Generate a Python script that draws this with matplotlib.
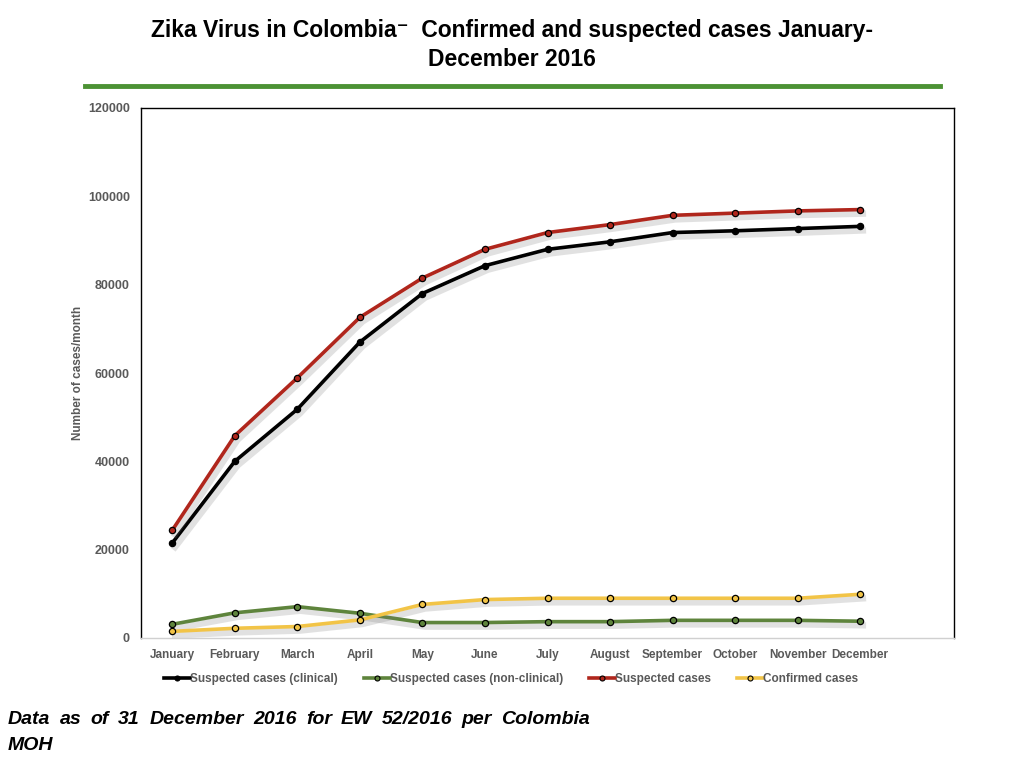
import matplotlib
matplotlib.use('Agg')
import matplotlib.pyplot as plt
import matplotlib.patheffects as pe
from matplotlib.lines import Line2D
import numpy as np

plt.rcParams['font.family'] = ['Liberation Sans', 'DejaVu Sans']

# Data
months = ['January', 'February', 'March', 'April', 'May', 'June', 'July',
          'August', 'September', 'October', 'November', 'December']
clinical = [21500, 40000, 51800, 67000, 78000, 84300, 88000, 89700, 91800, 92200, 92700, 93200]
non_clinical = [3100, 5700, 7100, 5600, 3500, 3500, 3700, 3700, 4000, 4000, 4000, 3800]
suspected = [24400, 45800, 58900, 72600, 81500, 88000, 91800, 93600, 95700, 96200, 96700, 97000]
confirmed = [1500, 2200, 2600, 4100, 7600, 8700, 9000, 9000, 9000, 9000, 9000, 9900]

series = [
    ('Suspected cases (clinical)', clinical, '#000000'),
    ('Suspected cases (non-clinical)', non_clinical, '#5e843c'),
    ('Suspected cases', suspected, '#b0261c'),
    ('Confirmed cases', confirmed, '#f2c447'),
]

fig = plt.figure(figsize=(10.24, 7.68), dpi=100)
ax = fig.add_axes([141/1024, 1-638/768, (954-141)/1024, (638-108)/768])

x = np.arange(len(months))
shadow = [pe.SimpleLineShadow(offset=(2, -3), shadow_color='#7a7a7a', alpha=0.22, linewidth=4.5),
          pe.Normal()]
handles = []
for name, vals, col in series:
    ax.plot(x, vals, color=col, linewidth=2.6, path_effects=shadow, zorder=2)
    ax.plot(x, vals, linestyle='none', marker='o', markersize=4.5,
            markerfacecolor=col, markeredgecolor='#000000', markeredgewidth=0.9, zorder=3)
    handles.append(Line2D([], [], color=col, linewidth=2.6, marker='o', markersize=3.6,
                          markerfacecolor=col, markeredgecolor='#000000', markeredgewidth=0.8,
                          label=name))

ax.set_xlim(-0.5, 12.5)
ax.set_ylim(0, 120000)
ax.set_yticks(np.arange(0, 120001, 20000))
ax.set_xticks(x)
ax.set_xticklabels(months)
ax.tick_params(axis='x', length=0, labelsize=8.5, labelcolor='#595959', pad=8)
ax.tick_params(axis='y', length=0, labelsize=9, labelcolor='#595959', pad=8)
for lab in ax.get_xticklabels() + ax.get_yticklabels():
    lab.set_fontweight('bold')
ax.set_ylabel('Number of cases/month', fontsize=8.5, fontweight='bold', color='#595959', labelpad=3)

for side in ['left', 'top', 'right']:
    ax.spines[side].set_color('#000000')
    ax.spines[side].set_linewidth(1.0)
ax.spines['bottom'].set_color('#d0d0d0')
ax.spines['bottom'].set_linewidth(1.0)

leg = fig.legend(handles=handles, loc='center', bbox_to_anchor=(511/1024, 1-679/768), ncol=4,
                 frameon=False, fontsize=8.5, labelcolor='#595959', handlelength=2.2,
                 handletextpad=0.0, columnspacing=2.2)
for t in leg.get_texts():
    t.set_fontweight('bold')

# Title and green rule
fig.text(0.5, 1-30/768, 'Zika Virus in Colombia⁻  Confirmed and suspected cases January-',
         ha='center', va='center', fontsize=16.5, fontweight='bold', color='#000000')
fig.text(0.5, 1-60/768, 'December 2016', ha='center', va='center', fontsize=16.5,
         fontweight='bold', color='#000000')
fig.add_artist(Line2D([85/1024, 940/1024], [1-86/768, 1-86/768], color='#4c9234', linewidth=3.5))

# Footnote, first line justified
words = 'Data as of 31 December 2016 for EW 52/2016 per Colombia'.split()
fig.canvas.draw()
renderer = fig.canvas.get_renderer()
texts = []
for w in words:
    texts.append(fig.text(0, 1-720/768, w, ha='left', va='center', fontsize=14,
                          fontweight='bold', fontstyle='italic'))
widths = [t.get_window_extent(renderer).width for t in texts]
x0, x1 = 8, 590
gap = (x1 - x0 - sum(widths)) / (len(words) - 1)
pos = x0
for t, wd in zip(texts, widths):
    t.set_x(pos/1024)
    pos += wd + gap
fig.text(8/1024, 1-745/768, 'MOH', ha='left', va='center', fontsize=14,
         fontweight='bold', fontstyle='italic')

fig.savefig('out.png', dpi=100)
